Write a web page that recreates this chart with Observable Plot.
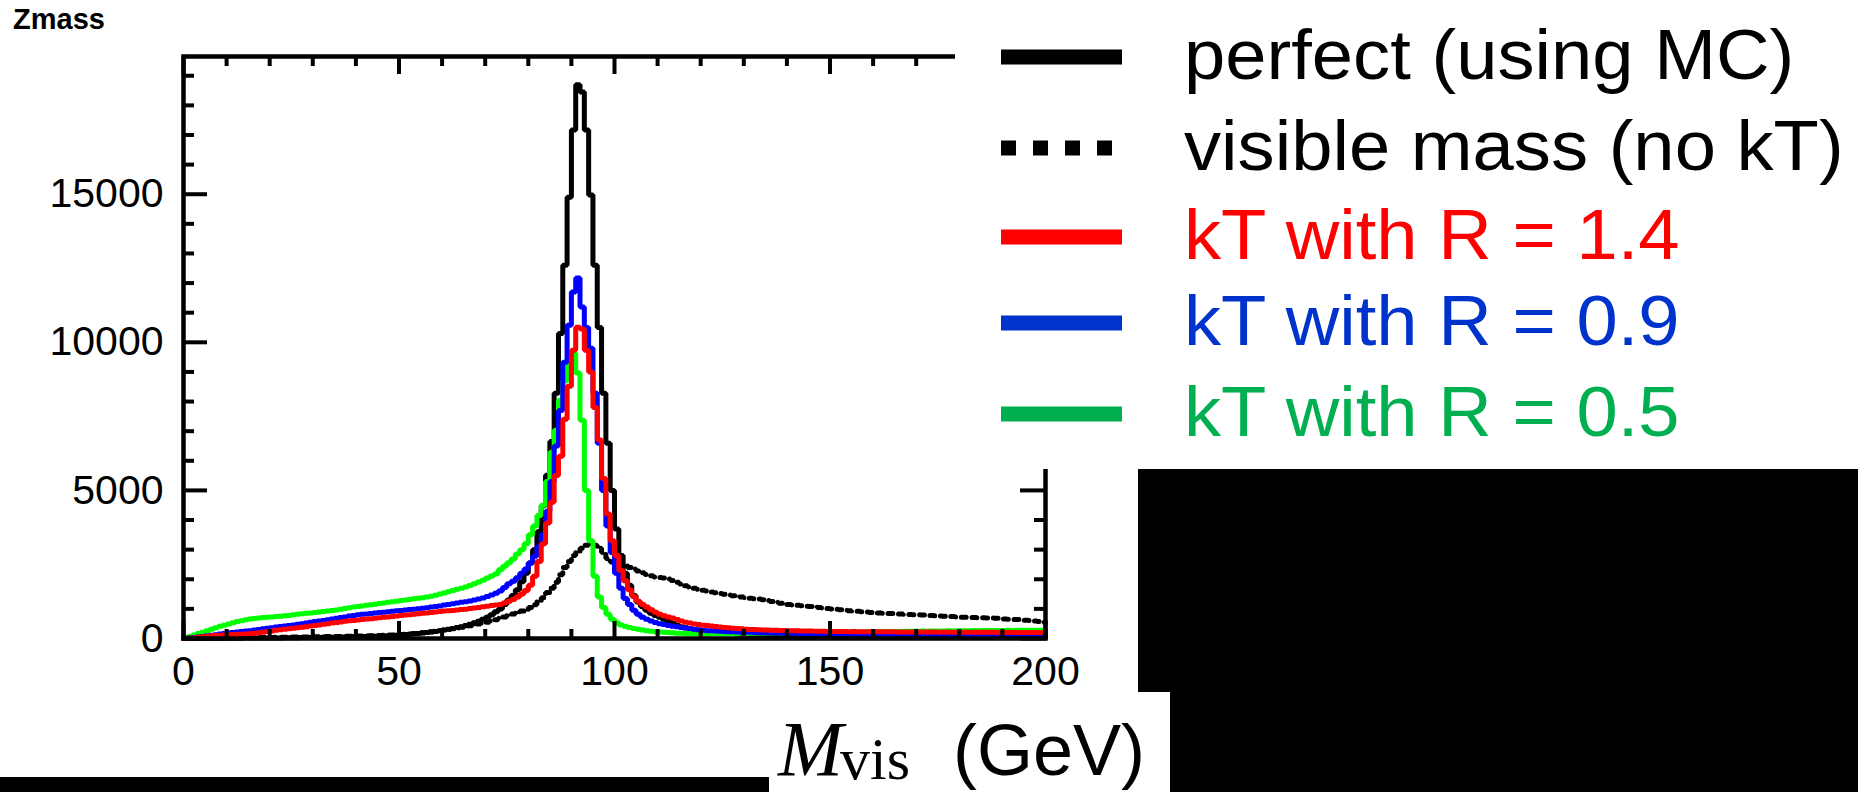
<!DOCTYPE html>
<html><head><meta charset="utf-8">
<script src="https://cdn.jsdelivr.net/npm/d3@7"></script>
<script src="https://cdn.jsdelivr.net/npm/@observablehq/plot@0.6"></script>
<style>
html,body{margin:0;padding:0;background:#fff;}
#wrap{position:relative;width:1858px;height:792px;overflow:hidden;background:#fff;}
#wrap > svg{position:absolute;left:0;top:0;}
</style></head><body><div id="wrap"></div>
<script>
// ---------- data (1 GeV bins from 0 to 200) ----------
const binStart = 0, binWidth = 1;
const perfectMC = [
0,0,0,2,3,4,5,6,7,8, 9,10,11,12,13,14,15,16,17,18, 19,20,21,22,24,26,28,30,32,34, 36,38,40,42,44,46,48,50,53,56,
60,64,68,72,76,80,86,92,100,110, 125,135,145,158,170,185,200,220,240,265, 290,315,340,370,400,440,480,530,580,650,
720,800,900,1000,1150,1300,1450,1650,1920,2200, 2550,3000,3600,4485,5510,6650,8280,10300,12600,14900,
17170,18700,18450,17170,14970,12600,10500,8280,6590,5000, 3700,2800,2200,1800,1450,1230,1080,950,850,780,
720,650,580,520,460,400,360,330,300,275, 250,235,222,210,198,186,175,165,155,145, 138,132,126,120,115,110,106,102,98,95,
92,89,86,84,82,80,78,76,74,73, 72,70,71,69,68,69,67,66,67,65, 64,65,63,62,63,61,60,61,59,58,
59,57,56,57,55,54,55,53,52,53, 51,50,51,49,48,49,47,46,47,45, 44,45,43,42,43,41,40,41,39,38];
const visibleMass = [
0,0,2,4,6,8,10,12,14,16, 18,20,22,24,26,28,30,32,34,36, 38,40,42,44,46,48,50,52,54,56, 58,60,62,64,66,68,70,73,76,80,
84,88,92,96,100,105,110,115,122,130, 138,146,155,165,178,192,208,225,245,265, 285,305,330,355,380,405,430,460,490,520,
550,590,630,680,730,780,830,880,930,980, 1050,1140,1250,1380,1550,1700,1900,2150,2400,2600,
2800,2950,3050,3150,3200,3150,3050,2900,2700,2580, 2520,2480,2450,2400,2350,2280,2220,2160,2120,2080,
2060,2040,2010,1960,1900,1840,1780,1740,1700,1665, 1630,1600,1570,1545,1520,1490,1470,1445,1420,1400,
1380,1360,1345,1330,1310,1280,1250,1220,1190,1170, 1150,1135,1120,1105,1090,1080,1065,1050,1030,1015,
1000,985,970,955,940,930,920,905,895,880, 870,862,855,848,840,830,825,818,810,805,
800,793,785,778,770,760,755,748,740,730, 720,716,712,708,704,700,695,688,680,670, 660,652,645,638,630,620,610,595,575,550];
const ktR14 = [
5,10,20,40,60,75,90,100,110,120, 130,135,140,145,150,158,175,195,215,235, 255,275,295,315,330,350,365,383,400,420,
440,460,480,500,520,540,560,580,600,610, 625,640,655,670,685,700,715,730,745,760, 777,790,805,820,835,850,865,880,895,910,
925,935,946,960,975,990,1010,1030,1050,1070, 1090,1110,1130,1150,1200,1260,1320,1400,1500,1620,
1800,2100,2600,3200,3900,4600,5500,6150,7400,8520, 9730,10510,10450,9730,9000,7800,6700,5400,4200,3300,
2800,2300,1950,1650,1420,1260,1150,1060,970,890, 820,770,730,690,640,590,550,520,490,470,
450,435,420,405,390,375,360,348,336,325, 315,308,300,295,290,284,280,276,272,268, 265,262,258,255,253,250,248,245,243,240,
238,236,238,234,232,234,230,229,231,228, 226,228,225,224,226,222,221,223,220,219, 221,218,217,219,216,215,217,214,213,215,
212,211,213,210,209,211,208,207,209,206, 205,207,204,203,205,202,201,203,200,199];
const ktR09 = [
5,15,30,50,70,90,110,130,150,170, 190,205,220,235,250,265,285,305,325,345, 365,385,405,420,440,460,478,496,520,545,
570,590,610,630,655,680,705,730,760,780, 800,815,830,845,860,875,890,905,920,935, 946,960,975,990,1005,1020,1040,1060,1080,1100,
1130,1150,1172,1195,1220,1245,1270,1300,1330,1370, 1420,1470,1530,1600,1720,1850,1930,2050,2200,2350,
2550,2780,3100,3500,4300,5300,6500,7700,9330,10580, 11700,12170,11190,10500,9800,8280,6590,5000,3800,2900,
2200,1700,1350,1150,950,820,720,650,590,540, 500,470,440,415,395,375,355,335,315,295,
275,265,258,250,242,235,230,225,220,215, 210,207,203,200,197,194,190,188,185,182, 180,178,175,173,171,170,168,166,165,163,
160,158,160,157,155,156,153,152,154,150, 150,148,150,147,146,148,145,144,146,143, 142,144,141,140,142,139,138,140,137,136,
138,135,134,136,133,132,134,131,130,132, 129,128,130,127,126,128,125,124,126,123];
const ktR05 = [
30,70,120,170,213,260,310,360,410,450, 490,530,570,600,630,655,675,690,705,715, 725,740,750,765,780,800,815,834,850,865,
880,895,910,925,945,965,985,1010,1040,1060, 1080,1100,1120,1140,1160,1180,1200,1220,1240,1260,
1284,1300,1320,1340,1360,1380,1400,1430,1460,1500, 1540,1580,1620,1660,1700,1740,1790,1850,1910,1970,
2040,2110,2180,2320,2440,2560,2680,2850,3000,3200, 3500,3800,4150,4500,5300,6290,7030,8040,8700,9300,
9630,8960,7370,5000,3300,2100,1400,1050,820,650, 530,460,410,370,340,310,290,265,245,230,
220,210,200,190,180,175,170,165,160,160, 158,160,162,160,165,168,170,168,172,175, 172,178,180,182,180,185,188,190,188,192,
195,193,198,200,202,200,205,208,206,210, 212,215,213,218,220,222,220,225,228,226, 230,232,235,233,238,240,238,242,245,243,
248,250,248,252,255,253,256,258,256,260, 262,260,264,266,263,268,270,267,272,270, 273,275,272,276,278,275,279,280,277,282];

const xDomain = [0, 200];
const yDomain = [0, 19650];
const xMajorTicks = [0, 50, 100, 150, 200];
const xMinorTicks = [10, 20, 30, 40, 60, 70, 80, 90, 110, 120, 130, 140, 160, 170, 180, 190];
const yMajorTicks = [0, 5000, 10000, 15000];
const yMinorTicks = [1000, 2000, 3000, 4000, 6000, 7000, 8000, 9000, 11000, 12000, 13000, 14000, 16000, 17000, 18000, 19000];

const legendLabels = ["perfect (using MC)", "visible mass (no kT)", "kT with R = 1.4", "kT with R = 0.9", "kT with R = 0.5"];
const legendLineColors = ["#000000", "#000000", "#ff0000", "#0033cc", "#00b050"];
const legendTextColors = ["#000000", "#000000", "#ff0000", "#0033cc", "#00b050"];
const legendDashed = [false, true, false, false, false];

// ---------- build step tables ----------
function steps(values) {
  const pts = values.map((v, i) => ({x: binStart + i * binWidth, y: v}));
  pts.push({x: binStart + values.length * binWidth, y: values[values.length - 1]});
  return pts;
}
const series = [
  {data: steps(perfectMC), stroke: "#000000", dash: null},
  {data: steps(visibleMass), stroke: "#000000", dash: "5,6"},
  {data: steps(ktR05), stroke: "#00ff00", dash: null},
  {data: steps(ktR09), stroke: "#0000ff", dash: null},
  {data: steps(ktR14), stroke: "#ff0000", dash: null}
];

const fmt = d => String(d);
const blank = () => "";
const chart = Plot.plot({
  width: 1858, height: 792,
  marginLeft: 183, marginRight: 813, marginTop: 56, marginBottom: 154,
  x: {domain: xDomain, label: null},
  y: {domain: yDomain, label: null},
  style: {fontFamily: "'Liberation Sans', Arial, sans-serif", fontSize: "41px", color: "#000", background: "transparent", overflow: "visible"},
  marks: [
    ...series.map(s => Plot.line(s.data, {x: "x", y: "y", curve: "step-after", stroke: s.stroke, strokeWidth: 5,
      strokeLinejoin: "miter", strokeDasharray: s.dash ?? undefined})),
    Plot.frame({stroke: "#000", strokeWidth: 4.5}),
    Plot.axisY({anchor: "left", ticks: yMajorTicks, tickSize: 0, tickPadding: 20, tickFormat: fmt, label: null, fontSize: 41}),
    Plot.axisY({anchor: "left", ticks: yMajorTicks, tickSize: -24, tickFormat: blank, label: null, strokeWidth: 4}),
    Plot.axisY({anchor: "left", ticks: yMinorTicks, tickSize: -11, tickFormat: blank, label: null, strokeWidth: 4}),
    Plot.axisY({anchor: "right", ticks: yMajorTicks, tickSize: -26, tickFormat: blank, label: null, strokeWidth: 4}),
    Plot.axisY({anchor: "right", ticks: yMinorTicks, tickSize: -12, tickFormat: blank, label: null, strokeWidth: 4}),
    Plot.axisX({anchor: "bottom", ticks: xMajorTicks, tickSize: 0, tickPadding: 17, tickFormat: fmt, label: null, fontSize: 41}),
    Plot.axisX({anchor: "bottom", ticks: xMajorTicks, tickSize: -17, tickFormat: blank, label: null, strokeWidth: 4}),
    Plot.axisX({anchor: "bottom", ticks: xMinorTicks, tickSize: -9, tickFormat: blank, label: null, strokeWidth: 4}),
    Plot.axisX({anchor: "top", ticks: xMajorTicks, tickSize: -17, tickFormat: blank, label: null, strokeWidth: 4}),
    Plot.axisX({anchor: "top", ticks: xMinorTicks, tickSize: -9, tickFormat: blank, label: null, strokeWidth: 4})
  ]
});
const wrap = document.getElementById("wrap");
wrap.appendChild(chart);

// ---------- overlay: title, legend, slide shapes, axis title ----------
const ov = d3.select(wrap).append("svg").attr("width", 1858).attr("height", 792)
  .style("font-family", "'Liberation Sans', Arial, sans-serif");
ov.append("text").attr("x", 13).attr("y", 29).attr("font-size", 29).attr("font-weight", "bold").attr("fill", "#000").text("Zmass");
// legend box (white) and slide rectangles
ov.append("rect").attr("x", 955).attr("y", 0).attr("width", 903).attr("height", 469).attr("fill", "#fff");
ov.append("rect").attr("x", 1138).attr("y", 469).attr("width", 720).attr("height", 223).attr("fill", "#000");
ov.append("rect").attr("x", 1170).attr("y", 692).attr("width", 688).attr("height", 100).attr("fill", "#000");
ov.append("rect").attr("x", 0).attr("y", 777).attr("width", 769).attr("height", 15).attr("fill", "#000");
const rowY = [57, 148, 237, 323, 414];
legendLabels.forEach((lab, i) => {
  const ln = ov.append("line").attr("x1", 1001).attr("x2", legendDashed[i] ? 1113 : 1122)
    .attr("y1", rowY[i]).attr("y2", rowY[i]).attr("stroke", legendLineColors[i]).attr("stroke-width", 15);
  if (legendDashed[i]) ln.attr("stroke-dasharray", "15,17");
  ov.append("text").attr("transform", `translate(1184,${rowY[i] + 22}) scale(1.06,1)`)
    .attr("font-size", 70).attr("fill", legendTextColors[i]).text(lab);
});
// x-axis title
ov.append("text").attr("x", 778).attr("y", 775).attr("font-size", 78).attr("font-style", "italic")
  .attr("font-family", "'Liberation Serif', 'DejaVu Serif', serif").text("M");
ov.append("text").attr("x", 840).attr("y", 779).attr("font-size", 60)
  .attr("font-family", "'Liberation Serif', 'DejaVu Serif', serif").text("vis");
ov.append("text").attr("x", 953).attr("y", 775).attr("font-size", 72).text("(GeV)");
</script></body></html>
